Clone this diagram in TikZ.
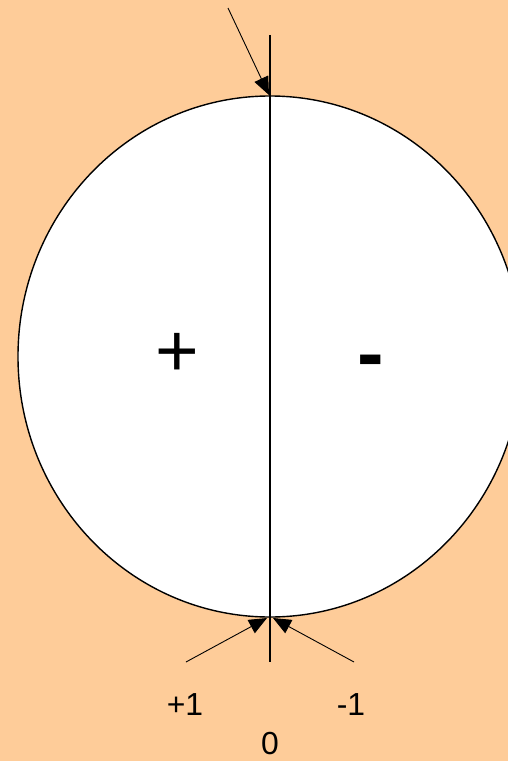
\documentclass[tikz,border=0pt]{standalone}
\usepackage{fontspec}
\setmainfont{Liberation Sans}
\usetikzlibrary{arrows.meta,shapes.geometric}
\definecolor{peach}{HTML}{FECC99}
\begin{document}
\begin{tikzpicture}[x=1bp,y=-1bp,
  ln/.style={line width=1.3bp,draw=black},
  arr/.style={line width=0.9bp,-{Triangle[length=18bp,width=15bp]}},
  lab/.style={font=\fontsize{32}{36}\selectfont,inner sep=0pt},
  signp/.style={font=\fontsize{75}{80}\selectfont,inner sep=0pt},
  signm/.style={font=\bfseries\fontsize{80}{84}\selectfont,inner sep=0pt}]
\fill[peach] (0,0) rectangle (508,761);
\useasboundingbox (0,0) rectangle (508,761);
\begin{scope}
\clip (0,0) rectangle (508,761);
\node[ellipse,draw,fill=white,line width=1.4bp,minimum width=504bp,minimum height=521bp,inner sep=0pt] (el) at (270,356.5) {};
\end{scope}
\coordinate (vt) at (270,35);
\coordinate (vb) at (270,662);
\draw[ln] (vt) -- (vb);
\coordinate (a0) at (228,8);
\coordinate (a1) at (186,662);
\coordinate (a2) at (354,662);
\coordinate (t0) at (269,95);
\coordinate (t1) at (267,618);
\coordinate (t2) at (273,618);
\draw[arr] (a0) -- (t0);
\draw[arr] (a1) -- (t1);
\draw[arr] (a2) -- (t2);
\node[signp] (plus) at (177,355) {+};
\node[signm] (minus) at (371,368) {-};
\node[lab] (p1) at (185,705) {+1};
\node[lab] (m1) at (351,705) {-1};
\node[lab] (z) at (270,744) {0};
\end{tikzpicture}
\end{document}
